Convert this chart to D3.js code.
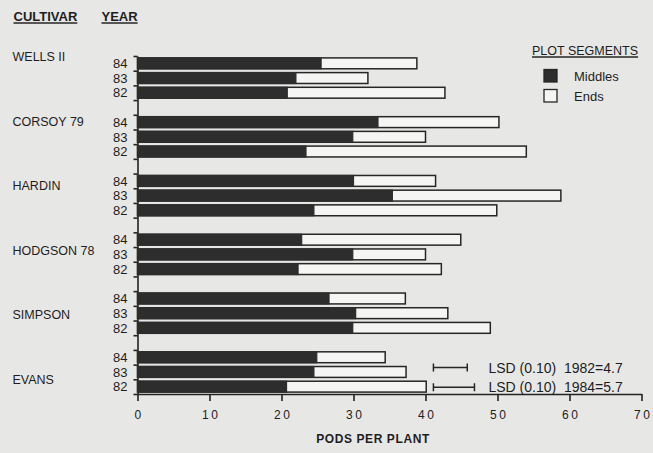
<!DOCTYPE html>
<meta charset="utf-8">
<style>
  body { margin: 0; background: #e7e7e5; }
  svg { font-family: "Liberation Sans", Arial, sans-serif; fill: #1e1e1e; }
  .axis path, .axis line { stroke: #222; stroke-width: 1.6; }
  .axis text { font-size: 12px; letter-spacing: 2.5px; fill: #222; }
</style>
<body>
<script src="https://cdn.jsdelivr.net/npm/d3@7"></script>
<script>
// cultivars and years, top to bottom
var cultivars = ["WELLS II", "CORSOY 79", "HARDIN", "HODGSON 78", "SIMPSON", "EVANS"];
var years = ["84", "83", "82"];

// pods per plant, one row per cultivar, columns follow years
var middles = [
  [25.5, 22.0, 20.8],
  [33.4, 29.9, 23.4],
  [30.0, 35.4, 24.5],
  [22.8, 29.9, 22.3],
  [26.6, 30.3, 29.9],
  [24.9, 24.5, 20.7]
];
var ends = [
  [38.8, 32.0, 42.7],
  [50.2, 40.0, 54.0],
  [41.4, 58.8, 49.9],
  [44.9, 40.0, 42.2],
  [37.2, 43.1, 49.0],
  [34.4, 37.3, 40.1]
];

var xTicks = [0, 10, 20, 30, 40, 50, 60, 70];

// LSD bars: start value, length, label
var lsdStart = 41.1;
var lsdValues = [4.7, 5.7];
var lsdLabels = ["LSD (0.10)  1982=4.7", "LSD (0.10)  1984=5.7"];

var width = 653, height = 453;
var dark = "#2d2d2d", light = "#f5f5f3", ink = "#262626";

var svg = d3.select("body").append("svg")
  .attr("width", width)
  .attr("height", height);

// build the slot list: 3 years per cultivar, one empty slot between groups
var rows = [], slots = [];
cultivars.forEach(function (c, i) {
  if (i > 0) slots.push("gap" + i);
  years.forEach(function (yr, j) {
    var key = c + "|" + yr;
    slots.push(key);
    rows.push({ key: key, cultivar: c, year: yr, mid: middles[i][j], end: ends[i][j] });
  });
});

var plotTop = 56, plotBottom = 394;

var x = d3.scaleLinear().domain([0, 70]).range([137.5, 641.5]);
var y = d3.scaleBand().domain(slots).range([plotTop, plotBottom]);
var yIdx = d3.scaleLinear().domain([0, slots.length]).range([plotTop, plotBottom]);

var bh = y.bandwidth() * 0.74;
function barY(d) { return y(d.key) + (y.bandwidth() - bh) / 2; }

// axes
svg.append("g")
  .attr("class", "axis")
  .attr("transform", "translate(0," + plotBottom + ")")
  .call(d3.axisBottom(x).tickValues(xTicks).tickSize(7).tickSizeOuter(0).tickPadding(9))
  .selectAll("text").attr("dx", "1.2px");

svg.append("g")
  .attr("class", "axis")
  .attr("transform", "translate(" + x(0) + ",0)")
  .call(d3.axisLeft(yIdx).tickValues(d3.range(slots.length + 1)).tickSize(4).tickSizeOuter(0).tickFormat(""));

// ends (outlined) under middles (solid)
var bar = svg.append("g").selectAll("g")
  .data(rows)
  .enter().append("g");

bar.append("rect")
  .attr("x", x(0))
  .attr("y", barY)
  .attr("width", function (d) { return x(d.end) - x(0); })
  .attr("height", bh)
  .attr("fill", light)
  .attr("stroke", ink)
  .attr("stroke-width", 1.5);

bar.append("rect")
  .attr("x", x(0))
  .attr("y", barY)
  .attr("width", function (d) { return x(d.mid) - x(0); })
  .attr("height", bh)
  .attr("fill", dark)
  .attr("stroke", dark)
  .attr("stroke-width", 1.2);

// year labels
svg.append("g").selectAll("text")
  .data(rows)
  .enter().append("text")
  .attr("x", 127.5)
  .attr("y", function (d) { return y(d.key) + y.bandwidth() / 2; })
  .attr("dy", "0.36em")
  .attr("text-anchor", "end")
  .style("font-size", "13px")
  .text(function (d) { return d.year; });

// cultivar labels, evenly spread down the left side
var yc = d3.scalePoint().domain(cultivars).range([plotTop + 0.7, yIdx(22)]);
svg.append("g").selectAll("text")
  .data(cultivars)
  .enter().append("text")
  .attr("x", 12.5)
  .attr("y", function (d) { return yc(d); })
  .attr("dy", "0.36em")
  .style("font-size", "12.5px")
  .text(function (d) { return d; });

// underlined headers
function header(label, x0, yb, size, weight) {
  var t = svg.append("text")
    .attr("x", x0)
    .attr("y", yb)
    .style("font-size", size)
    .style("font-weight", weight)
    .text(label);
  var w = t.node().getComputedTextLength();
  svg.append("line")
    .attr("x1", x0).attr("x2", x0 + w)
    .attr("y1", yb + 2).attr("y2", yb + 2)
    .attr("stroke", ink)
    .attr("stroke-width", 1.4);
}
header("CULTIVAR", 13.5, 21, "13px", "bold");
header("YEAR", 101.5, 21, "13px", "bold");
header("PLOT SEGMENTS", 532, 55, "12.5px", "normal");

// legend
var legend = svg.append("g").selectAll("g")
  .data([{ label: "Middles", fill: dark }, { label: "Ends", fill: light }])
  .enter().append("g")
  .attr("transform", function (d, i) { return "translate(544," + (69.5 + i * 20) + ")"; });

legend.append("rect")
  .attr("width", 13)
  .attr("height", 12.5)
  .attr("fill", function (d) { return d.fill; })
  .attr("stroke", ink)
  .attr("stroke-width", 1.3);

legend.append("text")
  .attr("x", 30)
  .attr("y", 6.5)
  .attr("dy", "0.36em")
  .style("font-size", "13px")
  .text(function (d) { return d.label; });

// LSD bars
var lsdY = [
  y("EVANS|83") + y.bandwidth() / 2 - 4.5,
  y("EVANS|82") + y.bandwidth() / 2 + 0.5
];
var lsd = svg.append("g").selectAll("g")
  .data(lsdValues)
  .enter().append("g")
  .attr("transform", function (d, i) { return "translate(0," + lsdY[i] + ")"; });

lsd.append("path")
  .attr("d", function (d) {
    var a = x(lsdStart), b = x(lsdStart + d);
    return "M" + a + ",-4V4M" + a + ",0H" + b + "M" + b + ",-4V4";
  })
  .attr("fill", "none")
  .attr("stroke", ink)
  .attr("stroke-width", 1.5);

lsd.append("text")
  .attr("x", 488.5)
  .attr("dy", "0.36em")
  .style("font-size", "14px")
  .style("white-space", "pre")
  .text(function (d, i) { return lsdLabels[i]; });

// x axis title
svg.append("text")
  .attr("x", 373)
  .attr("y", 443)
  .attr("text-anchor", "middle")
  .style("font-size", "12px")
  .style("font-weight", "bold")
  .style("letter-spacing", "0.6px")
  .text("PODS PER PLANT");
</script>
</body>
